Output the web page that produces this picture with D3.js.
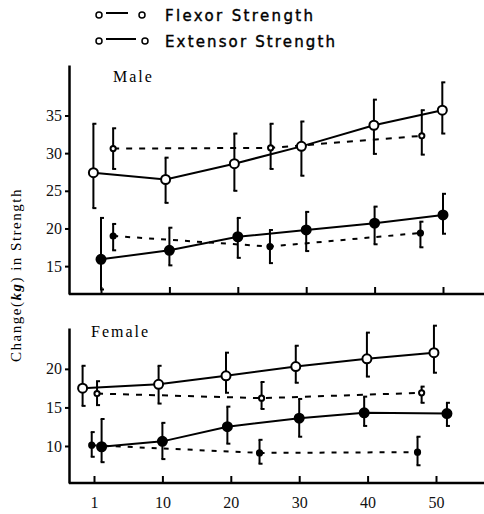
<!DOCTYPE html>
<html>
<head>
<meta charset="utf-8">
<script src="https://cdn.jsdelivr.net/npm/d3@7"></script>
<style>
  body { margin: 0; background: #fff; }
  svg { display: block; }
  .tick text { font-family: "Liberation Serif", "DejaVu Serif", serif; font-size: 16px; fill: #111; }
</style>
</head>
<body>
<svg id="chart" width="484" height="514"></svg>
<script>
// ticks
var xTicks = [1, 10, 20, 30, 40, 50];
var maleYTicks = [15, 20, 25, 30, 35];
var femaleYTicks = [10, 15, 20];

// Male - solid line, open circles
var maleOpenX = [0, 9.5, 19.5, 29.3, 39.9, 49.9];
var maleOpenMean = [27.4, 26.5, 28.6, 30.9, 33.7, 35.7];
var maleOpenLo = [22.7, 23.4, 25.0, 27.0, 29.9, 32.6];
var maleOpenHi = [33.9, 29.4, 32.6, 34.2, 37.1, 39.4];
// Male - solid line, filled circles
var maleFillX = [1, 10, 20, 30, 40, 50];
var maleFillMean = [15.9, 17.1, 18.9, 19.8, 20.7, 21.8];
var maleFillLo = [11.9, 15.1, 16.1, 17.0, 17.9, 19.3];
var maleFillHi = [21.4, 20.1, 21.4, 22.2, 22.9, 24.6];
// Male - dashed, upper
var maleDashUpX = [2.6, 24.8, 46.9];
var maleDashUpMean = [30.6, 30.7, 32.3];
var maleDashUpLo = [27.9, 27.9, 29.8];
var maleDashUpHi = [33.3, 33.9, 35.7];
// Male - dashed, lower
var maleDashLowX = [2.6, 24.7, 46.7];
var maleDashLowMean = [19.0, 17.6, 19.4];
var maleDashLowLo = [17.1, 15.4, 17.5];
var maleDashLowHi = [20.6, 19.8, 20.9];

// Female - solid line, open circles
var femOpenX = [-0.5, 9.5, 19.3, 29.5, 39.9, 49.7];
var femOpenMean = [17.5, 18.0, 19.1, 20.3, 21.3, 22.1];
var femOpenLo = [15.2, 15.5, 16.9, 18.2, 19.0, 19.5];
var femOpenHi = [20.4, 20.4, 22.1, 23.0, 24.7, 25.6];
// Female - solid line, filled circles
var femFillX = [2, 10, 19.5, 30, 39.5, 51.6];
var femFillMean = [9.9, 10.6, 12.5, 13.6, 14.3, 14.2];
var femFillLo = [7.9, 8.3, 10.3, 11.2, 12.6, 12.6];
var femFillHi = [13.5, 13.0, 15.1, 16.1, 16.4, 15.6];
// Female - dashed, upper
var femDashUpX = [1.4, 24.5, 47.9];
var femDashUpMean = [16.8, 16.2, 16.9];
var femDashUpLo = [15.3, 14.8, 15.6];
var femDashUpHi = [18.4, 18.3, 17.7];
// Female - dashed, lower
var femDashLowX = [0.7, 24.2, 47.3];
var femDashLowMean = [10.1, 9.1, 9.2];
var femDashLowLo = [8.6, 7.7, 7.5];
var femDashLowHi = [11.8, 10.8, 11.2];

var svg = d3.select('svg#chart');
var axisX = 69;
var step = 68.4;

function zip(xs, m, lo, hi) {
  return xs.map((x, i) => ({x: x, m: m[i], lo: lo[i], hi: hi[i]}));
}

var panels = [
  {label: 'Male', top: 65, bottom: 294, domain: [11.3, 41.7], x0: 101, yTicks: maleYTicks, labels: false,
   labelX: 113, labelY: 82,
   series: [
     {d: zip(maleOpenX, maleOpenMean, maleOpenLo, maleOpenHi), dash: null, r: 4.5, fill: '#fff'},
     {d: zip(maleFillX, maleFillMean, maleFillLo, maleFillHi), dash: null, r: 4.5, fill: '#000'},
     {d: zip(maleDashUpX, maleDashUpMean, maleDashUpLo, maleDashUpHi), dash: '6,7', r: 2.6, fill: '#fff'},
     {d: zip(maleDashLowX, maleDashLowMean, maleDashLowLo, maleDashLowHi), dash: '5,7', r: 2.6, fill: '#000'}
   ]},
  {label: 'Female', top: 328, bottom: 483, domain: [5.2, 25.3], x0: 94, yTicks: femaleYTicks, labels: true,
   labelX: 91, labelY: 337,
   series: [
     {d: zip(femOpenX, femOpenMean, femOpenLo, femOpenHi), dash: null, r: 4.5, fill: '#fff'},
     {d: zip(femFillX, femFillMean, femFillLo, femFillHi), dash: null, r: 4.5, fill: '#000'},
     {d: zip(femDashUpX, femDashUpMean, femDashUpLo, femDashUpHi), dash: '6,7', r: 2.6, fill: '#fff'},
     {d: zip(femDashLowX, femDashLowMean, femDashLowLo, femDashLowHi), dash: '5,7', r: 2.6, fill: '#000'}
   ]}
];

panels.forEach(function(p) {
  var x = d3.scaleLinear()
    .domain(xTicks)
    .range(xTicks.map((t, i) => p.x0 + i * step));
  var y = d3.scaleLinear().domain(p.domain).range([p.bottom, p.top]);
  var g = svg.append('g');

  // x axis (ticks pointing up)
  var xa = g.append('g')
    .attr('transform', 'translate(0,' + p.bottom + ')')
    .call(d3.axisBottom(x).tickValues(xTicks).tickSizeInner(-7).tickSizeOuter(0).tickPadding(14)
      .tickFormat(p.labels ? d3.format('d') : ''));
  xa.select('.domain').remove();
  xa.selectAll('.tick line').attr('stroke', '#000').attr('stroke-width', 2);
  g.append('line')
    .attr('x1', axisX).attr('x2', 484)
    .attr('y1', p.bottom).attr('y2', p.bottom)
    .attr('stroke', '#000').attr('stroke-width', 2.5);

  // y axis
  var ya = g.append('g')
    .attr('transform', 'translate(' + axisX + ',0)')
    .call(d3.axisLeft(y).tickValues(p.yTicks).tickSizeInner(4).tickSizeOuter(0).tickPadding(3));
  ya.select('.domain').attr('stroke-width', 2.5);
  ya.selectAll('.tick line').attr('stroke-width', 2);

  g.append('text')
    .attr('x', p.labelX).attr('y', p.labelY)
    .attr('font-family', 'Liberation Serif, serif')
    .attr('font-size', 16)
    .attr('letter-spacing', 2)
    .text(p.label);

  var line = d3.line().x(d => x(d.x)).y(d => y(d.m));

  p.series.forEach(function(s) {
    g.append('path')
      .datum(s.d)
      .attr('d', line)
      .attr('fill', 'none')
      .attr('stroke', '#000')
      .attr('stroke-width', 2)
      .attr('stroke-dasharray', s.dash);
  });

  p.series.forEach(function(s) {
    var eb = g.append('g').selectAll('g').data(s.d).enter().append('g');
    eb.append('line')
      .attr('x1', d => x(d.x)).attr('x2', d => x(d.x))
      .attr('y1', d => y(d.lo)).attr('y2', d => y(d.hi))
      .attr('stroke', '#000').attr('stroke-width', 2);
    eb.append('line')
      .attr('x1', d => x(d.x) - 1).attr('x2', d => x(d.x) + 3)
      .attr('y1', d => y(d.hi)).attr('y2', d => y(d.hi))
      .attr('stroke', '#000').attr('stroke-width', 2);
    eb.append('line')
      .attr('x1', d => x(d.x) - 1).attr('x2', d => x(d.x) + 3)
      .attr('y1', d => y(d.lo)).attr('y2', d => y(d.lo))
      .attr('stroke', '#000').attr('stroke-width', 2);
    g.append('g').selectAll('circle').data(s.d).enter().append('circle')
      .attr('cx', d => x(d.x))
      .attr('cy', d => y(d.m))
      .attr('r', s.r)
      .attr('fill', s.fill)
      .attr('stroke', '#000')
      .attr('stroke-width', 2);
  });
});

// legend
var legend = [
  {name: 'Flexor Strength', y: 15, x1: 106, x2: 128, cx2: 142, len: 148},
  {name: 'Extensor Strength', y: 41, x1: 106, x2: 136, cx2: 145, len: 170}
];
var lg = svg.append('g').selectAll('g').data(legend).enter().append('g');
lg.append('circle').attr('cx', 99).attr('cy', d => d.y).attr('r', 3)
  .attr('fill', 'none').attr('stroke', '#000').attr('stroke-width', 1.5);
lg.append('circle').attr('cx', d => d.cx2).attr('cy', d => d.y).attr('r', 3)
  .attr('fill', 'none').attr('stroke', '#000').attr('stroke-width', 1.5);
lg.append('line').attr('x1', d => d.x1).attr('x2', d => d.x2)
  .attr('y1', d => d.y - 2).attr('y2', d => d.y - 2)
  .attr('stroke', '#000').attr('stroke-width', 2);
lg.append('text')
  .attr('x', 165).attr('y', d => d.y + 6)
  .attr('font-family', 'DejaVu Sans, sans-serif')
  .attr('font-size', 15)
  .attr('stroke', '#000')
  .attr('stroke-width', 0.4)
  .attr('textLength', d => d.len)
  .attr('lengthAdjust', 'spacing')
  .text(d => d.name);

// y label
var yl = svg.append('text')
  .attr('transform', 'translate(21,275) rotate(-90)')
  .attr('text-anchor', 'middle')
  .attr('font-family', 'Liberation Serif, serif')
  .attr('font-size', 15)
  .attr('letter-spacing', 1.5);
yl.append('tspan').text('Change(');
yl.append('tspan').attr('font-weight', 'bold').attr('font-style', 'italic').text('kg');
yl.append('tspan').text(') in Strength');
</script>
</body>
</html>
